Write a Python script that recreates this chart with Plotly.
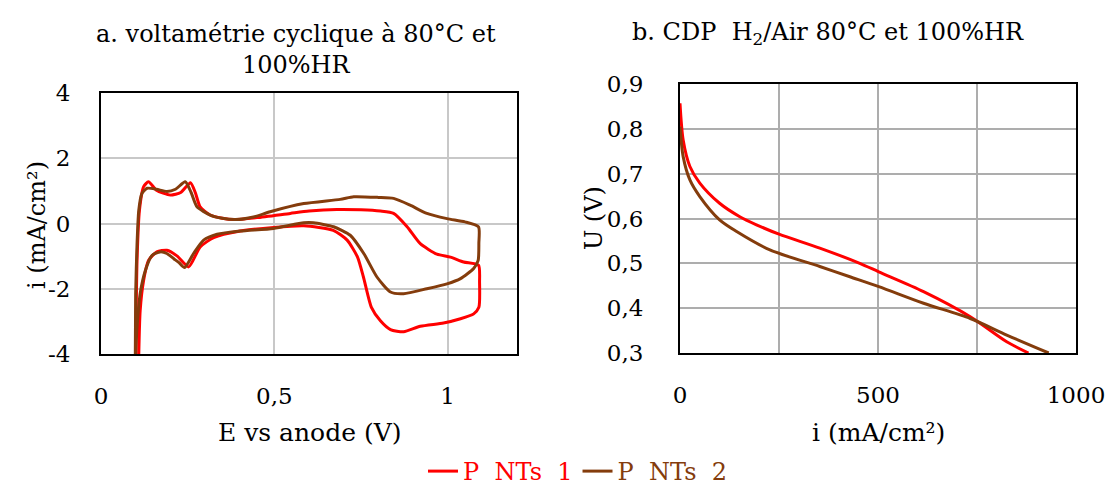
import plotly.graph_objects as go

# ---- data: cyclic voltammetry (E in V, i in mA/cm2) ----
E_cv1 = [0.100, 0.104, 0.111, 0.123, 0.137, 0.160, 0.200, 0.230, 0.258, 0.272, 0.286, 0.315, 0.350, 0.383,
         0.450, 0.546, 0.600, 0.680, 0.750, 0.806, 0.844, 0.883, 0.921, 0.969, 1.008, 1.046, 1.089, 1.092,
         1.090, 1.075, 1.037, 0.988, 0.921, 0.873, 0.835, 0.806, 0.780, 0.757, 0.740, 0.710, 0.670, 0.585,
         0.498, 0.402, 0.325, 0.286, 0.253, 0.220, 0.190, 0.161, 0.137, 0.123, 0.113, 0.109]
I_cv1 = [-4.0, -1.13, 0.41, 1.13, 1.28, 1.02, 0.87, 0.95, 1.25, 0.95, 0.51, 0.26, 0.16, 0.12,
         0.18, 0.31, 0.38, 0.43, 0.42, 0.38, 0.31, -0.10, -0.62, -0.94, -1.03, -1.18, -1.28, -1.80,
         -2.57, -2.77, -2.92, -3.05, -3.15, -3.32, -3.25, -2.98, -2.57, -1.64, -1.03, -0.51, -0.21, -0.07,
         -0.12, -0.23, -0.43, -0.72, -1.33, -1.00, -0.82, -0.87, -1.13, -1.74, -2.67, -4.0]

E_cv2 = [0.099, 0.100, 0.104, 0.109, 0.118, 0.133, 0.160, 0.190, 0.215, 0.243, 0.260, 0.277, 0.315, 0.350,
         0.388, 0.440, 0.488, 0.585, 0.690, 0.729, 0.800, 0.844, 0.892, 0.940, 0.998, 1.050, 1.089, 1.090,
         1.088, 1.075, 1.037, 0.998, 0.940, 0.873, 0.835, 0.796, 0.758, 0.719, 0.671, 0.613, 0.585, 0.498,
         0.402, 0.335, 0.296, 0.267, 0.241, 0.225, 0.210, 0.190, 0.171, 0.147, 0.128, 0.113, 0.104, 0.100]
I_cv2 = [-4.0, -2.15, -0.62, 0.41, 0.92, 1.08, 1.05, 0.98, 1.05, 1.28, 0.95, 0.51, 0.26, 0.16,
         0.12, 0.20, 0.36, 0.61, 0.74, 0.82, 0.80, 0.77, 0.56, 0.31, 0.15, 0.05, -0.10, -0.60,
         -1.13, -1.38, -1.69, -1.85, -2.00, -2.15, -2.10, -1.64, -0.92, -0.36, -0.10, 0.02, 0.02, -0.15,
         -0.23, -0.33, -0.51, -0.92, -1.35, -1.20, -1.08, -0.92, -0.87, -0.98, -1.44, -2.15, -3.18, -4.0]

# ---- data: polarization curves (i in mA/cm2, U in V) ----
i_pol1 = [0, 8, 25, 50, 100, 151, 193, 250, 353, 454, 502, 615, 733, 825, 880]
U_pol1 = [0.857, 0.775, 0.716, 0.679, 0.634, 0.604, 0.586, 0.565, 0.534, 0.500, 0.481, 0.437, 0.381, 0.325, 0.300]
i_pol2 = [0, 8, 25, 50, 100, 143, 227, 353, 429, 502, 615, 733, 825, 931]
U_pol2 = [0.805, 0.738, 0.686, 0.649, 0.597, 0.571, 0.530, 0.493, 0.470, 0.448, 0.411, 0.377, 0.340, 0.300]

series_names = ["P\u00a0\u00a0NTs\u00a0\u00a01", "P\u00a0\u00a0NTs\u00a0\u00a02"]
series_colors = ["#FF0000", "#843C0C"]

# ---- tick labels ----
cv_xticks = [0, 0.5, 1]
cv_xlabels = ["0", "0,5", "1"]
cv_yticks = [-4, -2, 0, 2, 4]
cv_ylabels = ["-4", "-2", "0", "2", "4"]
pol_xticks = [0, 500, 1000]
pol_xlabels = ["0", "500", "1000"]
pol_xminor = [250, 750]
pol_yticks = [0.3, 0.4, 0.5, 0.6, 0.7, 0.8, 0.9]
pol_ylabels = ["0,3", "0,4", "0,5", "0,6", "0,7", "0,8", "0,9"]

FONT = "DejaVu Serif"
W, H = 1111, 494

fig = go.Figure()
for k, (E, I) in enumerate([(E_cv1, I_cv1), (E_cv2, I_cv2)]):
    fig.add_trace(go.Scatter(
        x=E, y=I, mode="lines", xaxis="x", yaxis="y",
        line=dict(color=series_colors[k], width=3, shape="spline", smoothing=0.6),
        name="<span style='color:%s'>%s</span>" % (series_colors[k], series_names[k]),
        legendgroup=str(k), showlegend=True))
for k, (ii, U) in enumerate([(i_pol1, U_pol1), (i_pol2, U_pol2)]):
    fig.add_trace(go.Scatter(
        x=ii, y=U, mode="lines", xaxis="x2", yaxis="y2",
        line=dict(color=series_colors[k], width=3, shape="spline", smoothing=0.8),
        name=series_names[k], legendgroup=str(k), showlegend=False))


def px(x):
    return x / W


def py(y):
    return 1 - y / H


axis_common = dict(showline=True, linecolor="black", linewidth=2, mirror=True, ticks="",
                   zeroline=False, automargin=False,
                   tickfont=dict(family=FONT, size=23, color="black"))

fig.update_layout(
    width=W, height=H, margin=dict(l=0, r=0, t=0, b=0, autoexpand=False),
    paper_bgcolor="white", plot_bgcolor="white",
    font=dict(family=FONT, color="black"),
    xaxis=dict(domain=[px(101), px(517)], range=[0, 1.2], anchor="y",
               tickvals=cv_xticks, ticktext=cv_xlabels, showgrid=True,
               gridcolor="#C8C8C8", gridwidth=1.5, ticklabelstandoff=20, **axis_common),
    yaxis=dict(domain=[py(354), py(93)], range=[-4, 4], anchor="x",
               tickvals=cv_yticks, ticktext=cv_ylabels, showgrid=True,
               gridcolor="#C8C8C8", gridwidth=1.5, ticklabelstandoff=24, **axis_common),
    xaxis2=dict(domain=[px(680), px(1076)], range=[0, 1000], anchor="y2",
                tickvals=pol_xticks, ticktext=pol_xlabels, showgrid=True,
                minor=dict(tickvals=pol_xminor, showgrid=True, gridcolor="#ADADAD", gridwidth=1.5),
                gridcolor="#ADADAD", gridwidth=1.5, ticklabelstandoff=20, **axis_common),
    yaxis2=dict(domain=[py(353), py(84)], range=[0.3, 0.9], anchor="x2",
                tickvals=pol_yticks, ticktext=pol_ylabels, showgrid=True,
                gridcolor="#ADADAD", gridwidth=1.5, ticklabelstandoff=30, **axis_common),
    legend=dict(orientation="h", x=px(578), xanchor="center", y=0, yanchor="bottom",
                font=dict(family=FONT, size=24), bgcolor="rgba(0,0,0,0)"),
    showlegend=True,
)

annots = [
    dict(text="a. voltamétrie cyclique à 80°C et<br>100%HR", x=px(296), y=py(50), size=24),
    dict(text="b. CDP\u00a0\u00a0H<sub>2</sub>/Air 80°C et 100%HR", x=px(828), y=py(33), size=24),
    dict(text="E vs anode (V)", x=px(309), y=py(432), size=25),
    dict(text="i (mA/cm²)", x=px(878), y=py(432), size=25),
]
for a in annots:
    fig.add_annotation(text=a["text"], x=a["x"], y=a["y"], xref="paper", yref="paper",
                       xanchor="center", yanchor="middle", showarrow=False,
                       font=dict(family=FONT, size=a["size"], color="black"))
fig.add_annotation(text="i (mA/cm²)", x=px(37), y=py(225), xref="paper", yref="paper",
                   textangle=-90, showarrow=False, xanchor="center", yanchor="middle",
                   font=dict(family=FONT, size=24, color="black"))
fig.add_annotation(text="U (V)", x=px(594), y=py(218), xref="paper", yref="paper",
                   textangle=-90, showarrow=False, xanchor="center", yanchor="middle",
                   font=dict(family=FONT, size=24, color="black"))

post = ("document.body.style.margin='0';"
        "document.documentElement.style.overflow='hidden';"
        "document.body.style.overflow='hidden';")
fig.write_html("out.html", post_script=post, config={"displayModeBar": False})
